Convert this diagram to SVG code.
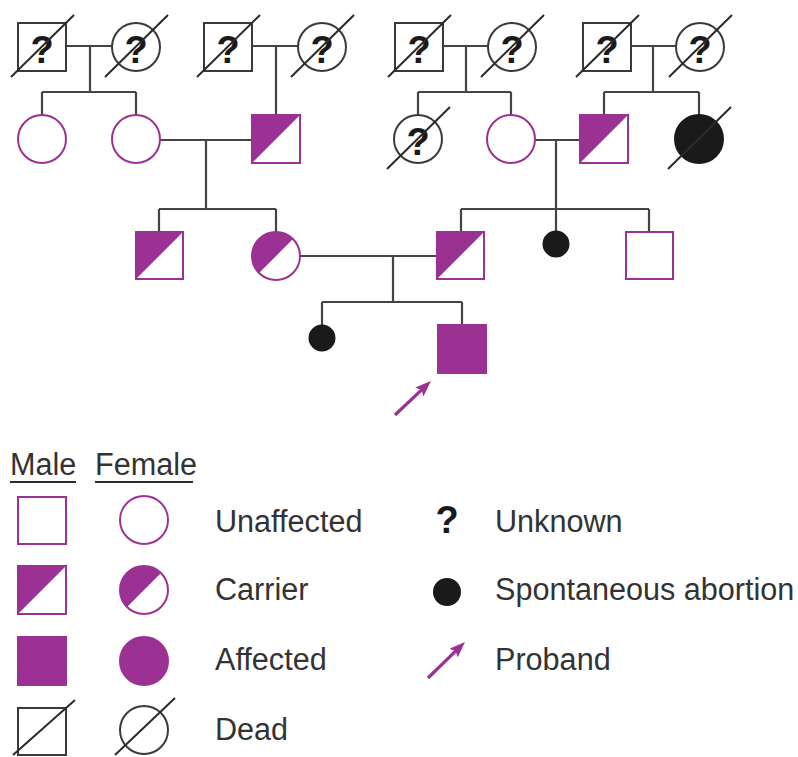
<svg xmlns="http://www.w3.org/2000/svg" width="798" height="757" viewBox="0 0 798 757">
<style>
.ln{stroke:#444;stroke-width:2.2;fill:none}
.u{fill:#fff;stroke:#9b3192;stroke-width:2}
.p{fill:#9b3192;stroke:none}
.a{fill:#9b3192;stroke:#9b3192;stroke-width:2}
.k{fill:#fff;stroke:#3a3a3a;stroke-width:2}
.kf{fill:#1a1a1a;stroke:#1a1a1a;stroke-width:2}
.sl{stroke:#2a2a2a;stroke-width:2;fill:none}
.q{font-family:"Liberation Sans",Arial,sans-serif;font-weight:bold;font-size:38px;fill:#1a1a1a;text-anchor:middle}
.t{font-family:"Liberation Sans",Arial,sans-serif;font-size:30.6px;fill:#333}
.ar{stroke:#9b3192;stroke-width:3.2;fill:none}
</style>
<defs>
<marker id="ah" viewBox="0 0 16 12" refX="10" refY="6" markerWidth="16" markerHeight="12" orient="auto" markerUnits="userSpaceOnUse">
<path d="M0,0 L16,6 L0,12 L3,6 z" fill="#9b3192"/>
</marker>
</defs>
<rect width="798" height="757" fill="#fff"/>

<g id="connectors">
<path class="ln" d="M66,46 H112 M90,46 V92 M42,92 H136 M42,92 V115 M136,92 V115"/>
<path class="ln" d="M252,46 H298 M276,46 V115"/>
<path class="ln" d="M443,46 H488 M466,46 V92 M418,92 H511 M418,92 V115 M511,92 V115"/>
<path class="ln" d="M631,46 H676 M653,46 V92 M604,92 H699 M604,92 V115 M699,92 V115"/>
<path class="ln" d="M160,140 H252 M206,140 V209 M159,209 H276 M159,209 V232 M276,209 V232"/>
<path class="ln" d="M535,140 H580 M556,140 V231 M461,209 H649 M461,209 V232 M649,209 V232"/>
<path class="ln" d="M300,256 H437 M393,256 V302 M322,302 H462 M322,302 V325 M462,302 V325"/>
</g>

<g id="I-1"><rect class="k" x="18" y="23" width="48" height="48"/><text class="q" x="42" y="63">?</text><line class="sl" x1="11" y1="77" x2="74" y2="15"/></g>
<g id="I-2"><circle class="k" cx="136" cy="47" r="24"/><text class="q" x="136" y="63">?</text><line class="sl" x1="105" y1="77" x2="168" y2="15"/></g>
<g id="I-3"><rect class="k" x="204" y="23" width="48" height="48"/><text class="q" x="228" y="63">?</text><line class="sl" x1="197" y1="77" x2="260" y2="15"/></g>
<g id="I-4"><circle class="k" cx="322" cy="47" r="24"/><text class="q" x="322" y="63">?</text><line class="sl" x1="291" y1="77" x2="354" y2="15"/></g>
<g id="I-5"><rect class="k" x="395" y="23" width="48" height="48"/><text class="q" x="419" y="63">?</text><line class="sl" x1="388" y1="77" x2="451" y2="15"/></g>
<g id="I-6"><circle class="k" cx="512" cy="47" r="24"/><text class="q" x="512" y="63">?</text><line class="sl" x1="481" y1="77" x2="544" y2="15"/></g>
<g id="I-7"><rect class="k" x="583" y="23" width="48" height="48"/><text class="q" x="607" y="63">?</text><line class="sl" x1="576" y1="77" x2="639" y2="15"/></g>
<g id="I-8"><circle class="k" cx="700" cy="47" r="24"/><text class="q" x="700" y="63">?</text><line class="sl" x1="669" y1="77" x2="732" y2="15"/></g>

<g id="II-1"><circle class="u" cx="42" cy="139" r="24"/></g>
<g id="II-2"><circle class="u" cx="136" cy="139" r="24"/></g>
<g id="II-3"><rect class="u" x="252" y="115" width="48" height="48"/><polygon class="p" points="252,115 300,115 252,163"/></g>
<g id="II-4"><circle class="k" cx="418" cy="139" r="24"/><text class="q" x="418" y="155">?</text><line class="sl" x1="387" y1="169" x2="450" y2="107"/></g>
<g id="II-5"><circle class="u" cx="511" cy="139" r="24"/></g>
<g id="II-6"><rect class="u" x="580" y="115" width="48" height="48"/><polygon class="p" points="580,115 628,115 580,163"/></g>
<g id="II-7"><circle class="kf" cx="699" cy="139" r="24"/><line class="sl" x1="668" y1="169" x2="731" y2="107"/></g>

<g id="III-1"><rect class="u" x="136" y="232" width="47" height="47"/><polygon class="p" points="136,232 183,232 136,279"/></g>
<g id="III-2"><circle class="u" cx="276" cy="256" r="24"/><path class="p" d="M259.03,272.97 A24,24 0 0 1 292.97,239.03 Z"/></g>
<g id="III-3"><rect class="u" x="437" y="232" width="47" height="47"/><polygon class="p" points="437,232 484,232 437,279"/></g>
<g id="III-4"><circle class="kf" cx="556" cy="244" r="12.5"/></g>
<g id="III-5"><rect class="u" x="626" y="232" width="47" height="47"/></g>

<g id="IV-1"><circle class="kf" cx="322" cy="338" r="12.5"/></g>
<g id="IV-2"><rect class="a" x="438" y="325" width="48" height="48"/></g>
<g id="proband-arrow"><line class="ar" x1="395" y1="415" x2="426.6" y2="385.1" marker-end="url(#ah)"/></g>

<g id="legend">
<text class="t" x="10" y="475">Male</text>
<line class="sl" x1="10" y1="482" x2="76" y2="482"/>
<text class="t" x="95" y="475">Female</text>
<line class="sl" x1="95" y1="482" x2="193" y2="482"/>

<rect class="u" x="18" y="497" width="48" height="47"/>
<circle class="u" cx="144" cy="520" r="24"/>
<text class="t" x="215" y="532">Unaffected</text>

<rect class="u" x="18" y="566" width="48" height="48"/>
<polygon class="p" points="18,566 66,566 18,614"/>
<circle class="u" cx="144" cy="590" r="24"/>
<path class="p" d="M127.03,606.97 A24,24 0 0 1 160.97,573.03 Z"/>
<text class="t" x="215" y="600">Carrier</text>

<rect class="a" x="18" y="637" width="48" height="48"/>
<circle class="a" cx="144" cy="661" r="24"/>
<text class="t" x="215" y="670">Affected</text>

<rect class="k" x="18" y="708" width="48" height="47"/>
<line class="sl" x1="13" y1="755" x2="75" y2="700"/>
<circle class="k" cx="144" cy="730" r="24"/>
<line class="sl" x1="115" y1="755" x2="175" y2="698"/>
<text class="t" x="215" y="740">Dead</text>

<text class="q" x="447" y="533">?</text>
<text class="t" x="495" y="532">Unknown</text>
<circle class="kf" cx="447" cy="592" r="13"/>
<text class="t" x="495" y="600">Spontaneous abortion</text>
<line class="ar" x1="428" y1="678" x2="460.7" y2="646.2" marker-end="url(#ah)"/>
<text class="t" x="495" y="670">Proband</text>
</g>
</svg>
